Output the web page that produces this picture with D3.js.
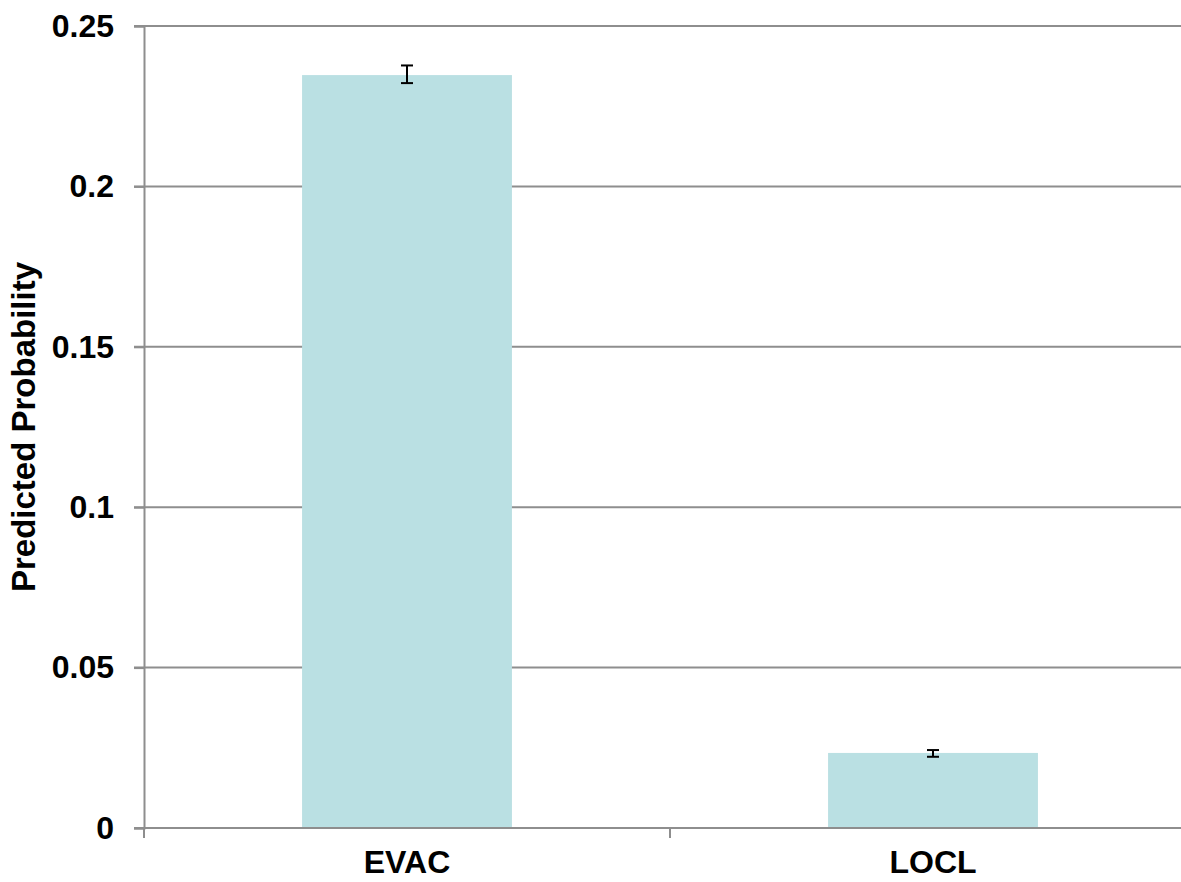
<!DOCTYPE html>
<html>
<head>
<meta charset="utf-8">
<script src="https://cdn.jsdelivr.net/npm/d3@7"></script>
<style>
  body { margin: 0; background: #fff; }
  text { font-family: "Liberation Sans", Arial, sans-serif; font-weight: bold; fill: #000; }
</style>
</head>
<body>
<svg id="chart"></svg>
<script>
// chart data
let categories = ['EVAC', 'LOCL'];
let probValues = [0.2347, 0.0234];
let errLow = [0.2322, 0.0222];
let errHigh = [0.2377, 0.0243];
let yTicks = [0, 0.05, 0.1, 0.15, 0.2, 0.25];
let yTickLabels = ['0', '0.05', '0.1', '0.15', '0.2', '0.25'];

function getConfig() {
  let width = 1181;
  let height = 882;
  let margin = { top: 26, bottom: 54, left: 144, right: -15 };
  let bodyWidth = width - margin.left - margin.right;
  let bodyHeight = height - margin.top - margin.bottom;
  let container = d3.select('#chart').attr('width', width).attr('height', height);
  return { width, height, margin, bodyWidth, bodyHeight, container };
}

function getScales(config) {
  let { bodyWidth, bodyHeight } = config;
  let xScale = d3.scaleBand()
    .domain(categories)
    .range([0, bodyWidth]);
  let yScale = d3.scaleLinear()
    .domain([0, 0.25])
    .range([bodyHeight, 0]);
  return { xScale, yScale };
}

function drawGrid(scales, config) {
  let { margin, container, bodyWidth } = config;
  let { yScale } = scales;
  let grid = container.append('g')
    .attr('transform', `translate(${margin.left},${margin.top})`);
  grid.selectAll('line').data(yTicks).enter().append('line')
    .attr('x1', -10)
    .attr('x2', bodyWidth)
    .attr('y1', d => yScale(d))
    .attr('y2', d => yScale(d))
    .attr('stroke', '#8e8e8e')
    .attr('stroke-width', 2);
}

function drawBars(scales, config) {
  let { margin, container } = config;
  let { xScale, yScale } = scales;
  let body = container.append('g')
    .attr('transform', `translate(${margin.left},${margin.top})`);
  let barW = xScale.bandwidth() * 0.399;

  body.selectAll('.bar').data(categories).enter().append('rect')
    .attr('class', 'bar')
    .attr('x', d => xScale(d) + xScale.bandwidth() / 2 - barW / 2)
    .attr('width', barW)
    .attr('y', (d, i) => yScale(probValues[i]))
    .attr('height', (d, i) => yScale(0) - yScale(probValues[i]))
    .attr('fill', '#bae0e3');

  // error bars
  let cap = 6;
  let eb = body.selectAll('.err').data(categories).enter().append('g')
    .attr('class', 'err')
    .attr('stroke', '#000')
    .attr('stroke-width', 2);
  eb.append('line')
    .attr('x1', d => xScale(d) + xScale.bandwidth() / 2)
    .attr('x2', d => xScale(d) + xScale.bandwidth() / 2)
    .attr('y1', (d, i) => yScale(errLow[i]))
    .attr('y2', (d, i) => yScale(errHigh[i]));
  [errLow, errHigh].forEach(arr => {
    eb.append('line')
      .attr('x1', d => xScale(d) + xScale.bandwidth() / 2 - cap)
      .attr('x2', d => xScale(d) + xScale.bandwidth() / 2 + cap)
      .attr('y1', (d, i) => yScale(arr[i]))
      .attr('y2', (d, i) => yScale(arr[i]));
  });
}

function drawAxes(scales, config) {
  let { margin, container, bodyHeight, bodyWidth } = config;
  let { xScale, yScale } = scales;

  // y axis
  let axisY = d3.axisLeft(yScale)
    .tickValues(yTicks)
    .tickFormat((d, i) => yTickLabels[i])
    .tickSize(10)
    .tickPadding(20);
  let gy = container.append('g')
    .attr('transform', `translate(${margin.left},${margin.top})`)
    .call(axisY);
  gy.select('.domain').attr('stroke', '#8e8e8e').attr('stroke-width', 2);
  gy.selectAll('.tick line').attr('stroke', '#8e8e8e').attr('stroke-width', 2);
  gy.selectAll('.tick text').style('font-size', '32px').attr('fill', '#000');

  // x axis: ticks at band boundaries
  let bounds = categories.map(c => xScale(c)).concat([bodyWidth]);
  let gx = container.append('g')
    .attr('transform', `translate(${margin.left},${margin.top + bodyHeight})`);
  gx.append('line')
    .attr('x1', 0).attr('x2', bodyWidth)
    .attr('stroke', '#8e8e8e').attr('stroke-width', 2);
  gx.selectAll('.btick').data(bounds).enter().append('line')
    .attr('class', 'btick')
    .attr('x1', d => d).attr('x2', d => d)
    .attr('y1', 0).attr('y2', 10)
    .attr('stroke', '#8e8e8e').attr('stroke-width', 2);
  gx.selectAll('.xlabel').data(categories).enter().append('text')
    .attr('class', 'xlabel')
    .attr('x', d => xScale(d) + xScale.bandwidth() / 2)
    .attr('y', 45)
    .attr('text-anchor', 'middle')
    .style('font-size', '32px')
    .text(d => d);

  // y title
  container.append('text')
    .attr('transform', `translate(35,${margin.top + bodyHeight / 2}) rotate(-90)`)
    .attr('text-anchor', 'middle')
    .style('font-size', '33px')
    .text('Predicted Probability');
}

function drawChart() {
  let config = getConfig();
  let scales = getScales(config);
  drawGrid(scales, config);
  drawBars(scales, config);
  drawAxes(scales, config);
}

drawChart();
</script>
</body>
</html>
